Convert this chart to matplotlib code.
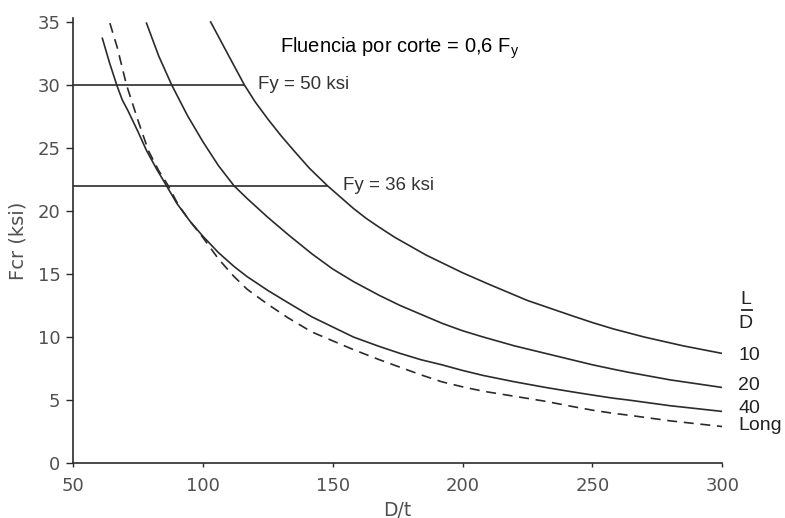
import matplotlib.pyplot as plt

# curves: D/t vs Fcr (ksi)
dt_10 = [103, 110, 116, 120, 125, 130, 135, 141, 148, 153, 158, 163, 168, 174, 180, 186, 192, 200, 210,
         225, 242, 250, 258, 270, 285, 300]
fcr_10 = [35.0, 32.3, 30.0, 28.7, 27.3, 26.0, 24.8, 23.4, 22.0, 21.1, 20.2, 19.4, 18.7, 17.9, 17.2, 16.5,
          15.9, 15.1, 14.2, 12.9, 11.7, 11.15, 10.65, 10.0, 9.3, 8.7]

dt_20 = [78.3, 83, 88, 94, 100, 106, 112, 117, 125, 133, 142, 150, 158, 168, 176, 184, 192, 200, 208,
         220, 232, 242, 250, 258, 264, 280, 300]
fcr_20 = [34.9, 32.3, 30.0, 27.6, 25.5, 23.6, 22.0, 21.0, 19.5, 18.1, 16.6, 15.4, 14.4, 13.3, 12.5, 11.8,
          11.1, 10.5, 10.0, 9.3, 8.7, 8.2, 7.8, 7.45, 7.2, 6.6, 6.0]

dt_40 = [61.3, 64, 67, 69, 71.3, 75, 78.3, 82, 86, 90, 95, 100, 106, 112, 117, 125, 133, 142, 150, 158,
         168, 176, 184, 192, 200, 208, 220, 232, 242, 250, 258, 264, 280, 300]
fcr_40 = [33.7, 31.8, 29.9, 28.8, 27.9, 26.3, 24.8, 23.4, 22.0, 20.6, 19.2, 18.0, 16.7, 15.6, 14.8, 13.7,
          12.7, 11.6, 10.8, 10.0, 9.25, 8.7, 8.2, 7.8, 7.35, 6.95, 6.45, 6.0, 5.66, 5.4, 5.15, 5.0, 4.55, 4.1]

dt_long = [64.2, 67, 70.6, 75, 79, 83, 86.7, 90.5, 95, 100, 106, 112, 117, 125, 133, 142, 150, 158, 168,
           176, 184, 192, 200, 208, 220, 232, 242, 250, 258, 264, 280, 300]
fcr_long = [34.9, 33.0, 30.0, 27.2, 24.8, 23.2, 22.0, 20.5, 19.2, 17.9, 16.2, 14.8, 13.8, 12.6, 11.5, 10.4,
            9.7, 9.0, 8.2, 7.6, 7.0, 6.45, 6.05, 5.7, 5.3, 4.9, 4.5, 4.2, 3.95, 3.8, 3.35, 2.9]

fy_levels = [30, 22]
fy_ends = [116, 148]
fy_labels = ['Fy = 50 ksi', 'Fy = 36 ksi']

ld_labels = ['10', '20', '40', 'Long']
ld_label_y = [8.57, 6.19, 4.37, 3.0]

ink = '#2b2b2b'
grey = '#505050'

fig, ax = plt.subplots(figsize=(7.85, 5.18), dpi=100)
fig.subplots_adjust(left=0.093, right=0.92, bottom=0.106, top=0.965)

ax.plot(dt_10, fcr_10, color=ink, lw=1.2)
ax.plot(dt_20, fcr_20, color=ink, lw=1.2)
ax.plot(dt_40, fcr_40, color=ink, lw=1.2)
ax.plot(dt_long, fcr_long, color=ink, lw=1.2, dashes=(6, 4))

for lev, end, lab, lx in zip(fy_levels, fy_ends, fy_labels, [121.2, 153.8]):
    ax.plot([50, end], [lev, lev], color=ink, lw=1.2)
    ax.text(lx, lev, lab, family='Liberation Sans', fontsize=13.5, color='#333333',
            va='center', ha='left')

plt.rcParams['mathtext.fontset'] = 'custom'
plt.rcParams['mathtext.rm'] = 'Liberation Sans'
ax.text(129.6, 32.9, r'Fluencia por corte = 0,6 F$_\mathrm{y}$', family='Liberation Sans',
        fontsize=14.5, color='black', va='center', ha='left')

# L/D legend at the right end of the curves
ax.text(309, 12.98, 'L', family='Liberation Sans', fontsize=14, color='#222222',
        ha='center', va='center', clip_on=False)
ax.plot([307.5, 311.5], [12.14, 12.14], color='#222222', lw=1.3, clip_on=False)
ax.text(309, 11.07, 'D', family='Liberation Sans', fontsize=14, color='#222222',
        ha='center', va='center', clip_on=False)
for lab, ly in zip(ld_labels, ld_label_y):
    ax.text(306.2, ly, lab, family='Liberation Sans', fontsize=14, color='#222222',
            ha='left', va='center', clip_on=False)

ax.set_xlim(50, 300)
ax.set_ylim(0, 35.3)
ax.set_xticks([50, 100, 150, 200, 250, 300])
ax.set_yticks([0, 5, 10, 15, 20, 25, 30, 35])
ax.spines['top'].set_visible(False)
ax.spines['right'].set_visible(False)
for s in ['left', 'bottom']:
    ax.spines[s].set_color(ink)
    ax.spines[s].set_linewidth(1.2)
ax.tick_params(axis='y', direction='out', length=5, width=1, color=ink,
               labelsize=13, labelcolor=grey, pad=4)
ax.tick_params(axis='x', direction='out', length=3, width=1, color=ink,
               labelsize=13, labelcolor=grey, pad=7)
ax.set_xlabel('D/t', fontsize=13.5, color=grey, labelpad=4)
ax.set_ylabel('Fcr (ksi)', fontsize=14, color=grey, labelpad=7)

fig.savefig('out.png', dpi=100)
